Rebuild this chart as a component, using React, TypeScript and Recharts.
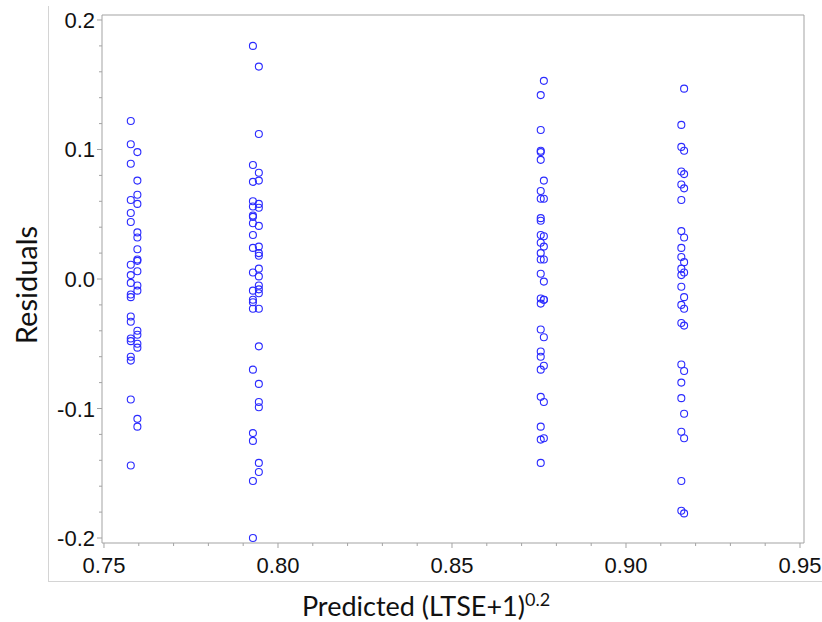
import React from "react";
import { ScatterChart, Scatter, XAxis, YAxis, ReferenceArea } from "recharts";

// residuals per predicted value (each value has two slightly offset columns)
const predicted = [0.7577, 0.7596, 0.7928, 0.7945, 0.8755, 0.8764, 0.9159, 0.9167];

const res1a = [0.122, 0.104, 0.089, 0.061, 0.051, 0.044, 0.011, 0.003, -0.003, -0.012, -0.014, -0.029, -0.033, -0.046, -0.048, -0.06, -0.063, -0.093, -0.144];
const res1b = [0.098, 0.076, 0.065, 0.058, 0.036, 0.032, 0.023, 0.015, 0.014, 0.006, -0.005, -0.009, -0.04, -0.043, -0.05, -0.053, -0.108, -0.114];
const res2a = [0.18, 0.088, 0.075, 0.06, 0.056, 0.049, 0.048, 0.043, 0.034, 0.024, 0.005, -0.009, -0.016, -0.018, -0.023, -0.07, -0.119, -0.125, -0.156, -0.2];
const res2b = [0.164, 0.112, 0.082, 0.076, 0.058, 0.055, 0.041, 0.025, 0.02, 0.018, 0.008, 0.002, -0.005, -0.008, -0.011, -0.023, -0.052, -0.081, -0.095, -0.099, -0.142, -0.149];
const res3a = [0.142, 0.115, 0.099, 0.098, 0.092, 0.068, 0.062, 0.047, 0.045, 0.034, 0.028, 0.02, 0.015, 0.004, -0.015, -0.019, -0.039, -0.056, -0.06, -0.07, -0.091, -0.114, -0.124, -0.142];
const res3b = [0.153, 0.076, 0.062, 0.033, 0.025, 0.015, -0.002, -0.016, -0.016, -0.045, -0.067, -0.095, -0.123];
const res4a = [0.119, 0.102, 0.083, 0.073, 0.061, 0.037, 0.024, 0.017, 0.008, 0.003, -0.006, -0.02, -0.034, -0.066, -0.08, -0.092, -0.118, -0.156, -0.179];
const res4b = [0.147, 0.099, 0.081, 0.07, 0.032, 0.013, 0.005, -0.014, -0.023, -0.036, -0.071, -0.104, -0.123, -0.181];

const residualGroups = [res1a, res1b, res2a, res2b, res3a, res3b, res4a, res4b];

const xTicks = [0.75, 0.76, 0.77, 0.78, 0.79, 0.8, 0.81, 0.82, 0.83, 0.84, 0.85, 0.86, 0.87, 0.88, 0.89, 0.9, 0.91, 0.92, 0.93, 0.94, 0.95];
const yTicks = [-0.2, -0.18, -0.16, -0.14, -0.12, -0.1, -0.08, -0.06, -0.04, -0.02, 0, 0.02, 0.04, 0.06, 0.08, 0.1, 0.12, 0.14, 0.16, 0.18, 0.2];

const X_DOMAIN = [0.74943, 0.95115];
const Y_DOMAIN = [-0.20386, 0.20386];

const data = residualGroups.flatMap((ys, i) => ys.map((y) => ({ x: predicted[i], y })));

const AXIS_GREY = "#a3a3a3";
const LABEL_FONT = "'Liberation Sans', Arial, sans-serif";
const TITLE_FONT = "Lato, 'Open Sans', sans-serif";

const isMajor = (v: number, step: number) => Math.abs(v / step - Math.round(v / step)) < 1e-6;

const XTick = ({ x, y, payload }: any) => {
  const major = isMajor(payload.value, 0.05);
  return (
    <g>
      <line x1={x} x2={x} y1={y} y2={y + (major ? 5 : 3)} stroke={AXIS_GREY} />
      {major && (
        <text x={x} y={y + 30} textAnchor="middle" fontSize={22} fill="#111" fontFamily={LABEL_FONT}>
          {payload.value.toFixed(2)}
        </text>
      )}
    </g>
  );
};

const YTick = ({ x, y, payload }: any) => {
  const major = isMajor(payload.value, 0.1);
  return (
    <g>
      <line x1={x - (major ? 5 : 3)} x2={x} y1={y} y2={y} stroke={AXIS_GREY} />
      {major && (
        <text x={x - 7} y={y + 8} textAnchor="end" fontSize={22} fill="#111" fontFamily={LABEL_FONT}>
          {payload.value.toFixed(1)}
        </text>
      )}
    </g>
  );
};

const OpenCircle = (props: any) => (
  <circle cx={props.cx} cy={props.cy} r={3.5} fill="none" stroke="#2b2bff" strokeWidth={1.1} />
);

export default function App() {
  return (
    <div style={{ position: "absolute", left: 0, top: 0, width: 822, height: 622, background: "#fff" }}>
      {/* light outer frame around axes */}
      <div
        style={{
          position: "absolute",
          left: 48,
          top: 6,
          width: 780,
          height: 575,
          borderLeft: "1px solid #d4d4d4",
          borderBottom: "1px solid #d4d4d4",
        }}
      />
      <ScatterChart width={822} height={622} margin={{ top: 15, right: 18, bottom: 0, left: 0 }}>
        <XAxis
          type="number"
          dataKey="x"
          domain={X_DOMAIN}
          ticks={xTicks}
          interval={0}
          allowDataOverflow
          height={79}
          tickSize={0}
          tickMargin={0}
          axisLine={false}
          tickLine={false}
          tick={<XTick />}
        />
        <YAxis
          type="number"
          dataKey="y"
          domain={Y_DOMAIN}
          ticks={yTicks}
          interval={0}
          allowDataOverflow
          width={102}
          tickSize={0}
          tickMargin={0}
          axisLine={false}
          tickLine={false}
          tick={<YTick />}
        />
        <ReferenceArea
          x1={X_DOMAIN[0]}
          x2={X_DOMAIN[1]}
          y1={Y_DOMAIN[0]}
          y2={Y_DOMAIN[1]}
          fill="none"
          fillOpacity={0}
          stroke={AXIS_GREY}
          strokeOpacity={1}
        />
        <Scatter data={data} shape={<OpenCircle />} isAnimationActive={false} />
      </ScatterChart>
      <div
        style={{
          position: "absolute",
          left: 25,
          top: 285,
          transform: "translate(-50%, -50%) rotate(-90deg)",
          fontFamily: TITLE_FONT,
          fontSize: 29,
          color: "#111",
          whiteSpace: "nowrap",
        }}
      >
        Residuals
      </div>
      <div
        style={{
          position: "absolute",
          left: 426,
          top: 605,
          transform: "translate(-50%, -50%)",
          fontFamily: TITLE_FONT,
          fontSize: 27,
          color: "#111",
          whiteSpace: "nowrap",
        }}
      >
        Predicted (LTSE+1)<sup style={{ fontSize: 18 }}>0.2</sup>
      </div>
    </div>
  );
}
